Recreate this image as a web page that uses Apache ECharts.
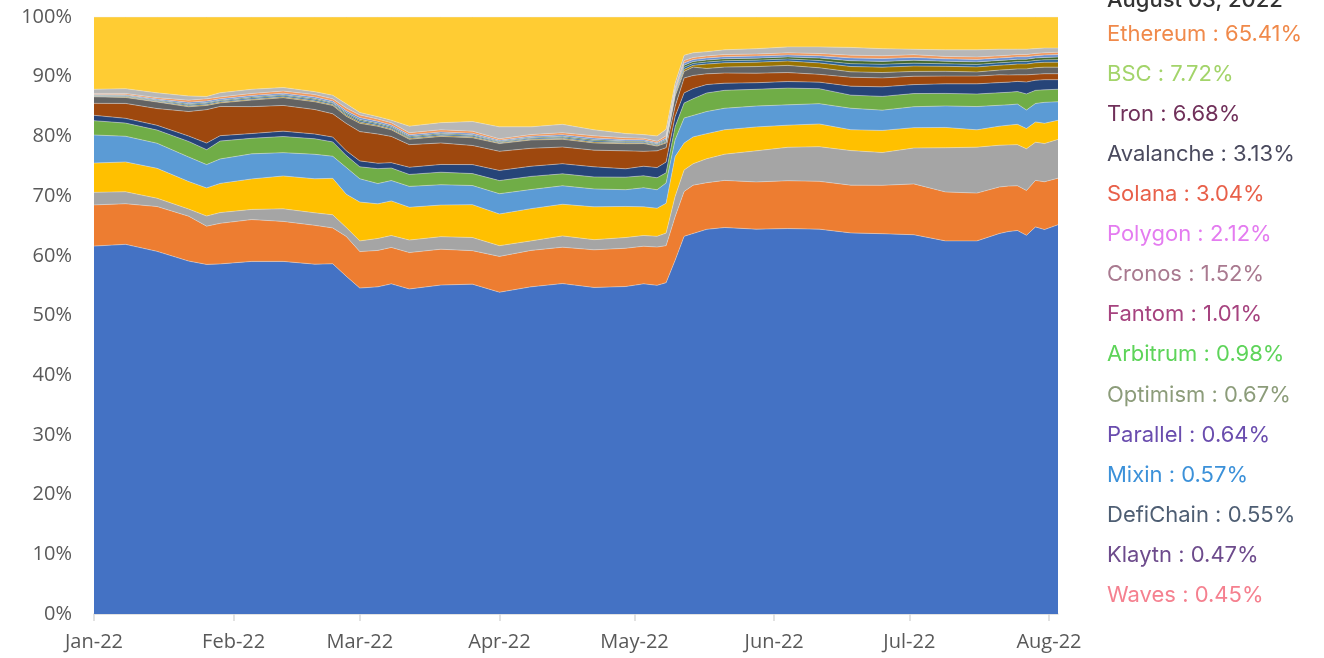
<!DOCTYPE html>
<html>
<head>
<meta charset="utf-8">
<script src="https://cdn.jsdelivr.net/npm/echarts@6/dist/echarts.min.js"></script>
<style>
html,body{margin:0;padding:0;background:#fff;}
#chart{width:1324px;height:658px;}
</style>
</head>
<body>
<div id="chart"></div>
<script>
// ---- data (share of TVL, %) ----
var dates = ['2022-01-01','2022-01-08','2022-01-15','2022-01-22','2022-01-26','2022-01-29','2022-02-05','2022-02-12','2022-02-19','2022-02-23',
'2022-02-26','2022-03-01','2022-03-05','2022-03-08','2022-03-12','2022-03-19','2022-03-26','2022-04-01','2022-04-08','2022-04-15',
'2022-04-22','2022-04-29','2022-05-03','2022-05-06','2022-05-08','2022-05-10','2022-05-12','2022-05-14','2022-05-17','2022-05-21',
'2022-05-28','2022-06-04','2022-06-11','2022-06-18','2022-06-25','2022-07-02','2022-07-09','2022-07-16','2022-07-21','2022-07-23',
'2022-07-25','2022-07-27','2022-07-29','2022-07-31','2022-08-03'];

var ethereum = [61.6,61.9,60.7,59.0,58.5,58.7,59.0,59.0,58.6,58.6, 56.8,54.6,54.8,55.3,54.5,55.1,55.2,53.9,54.8,55.4, 54.7,54.8,55.3,55.0,55.5,59.3,63.2,63.8,64.3,64.8, 64.4,64.5,64.4,63.9,63.7,63.4,62.5,62.5,63.8,64.0, 64.3,63.5,64.9,64.4,65.2];
var bsc      = [6.9,6.8,7.5,7.5,6.4,6.8,7.0,6.7,6.5,6.0, 6.7,6.1,6.1,6.1,6.1,6.0,5.6,6.0,6.1,6.1, 6.3,6.4,6.3,6.4,6.2,7.3,7.5,8.1,7.8,7.9, 7.9,8.0,8.0,8.0,8.1,8.5,8.2,8.0,7.8,7.6, 7.5,7.5,7.8,8.0,7.8];
var tron     = [2.1,2.0,1.4,1.2,1.7,1.8,1.7,2.1,2.1,2.2, 1.5,1.8,2.0,2.0,2.1,2.1,2.2,1.8,1.6,1.9, 1.7,1.8,1.8,1.8,2.1,3.4,3.6,3.6,4.0,4.4, 5.2,5.6,5.8,5.8,5.5,6.0,7.4,7.7,7.0,6.9, 6.9,7.0,6.4,6.4,6.5];
var avalanche= [4.9,5.0,5.0,4.6,4.7,4.9,5.1,5.5,5.7,6.1, 5.6,6.5,5.8,5.8,5.5,5.3,5.5,5.3,5.4,5.3, 5.5,5.2,4.8,4.7,5.0,6.7,4.5,4.5,4.2,4.1, 4.0,3.7,3.8,3.5,3.7,3.4,3.4,2.9,3.2,3.3, 3.4,3.4,3.4,3.4,3.2];
var solana   = [4.7,4.3,4.2,4.1,3.9,4.1,4.2,3.9,4.1,3.7, 4.5,3.9,3.4,3.4,3.5,3.4,3.2,3.4,3.2,3.1, 3.0,2.8,3.2,3.1,3.4,2.8,4.2,3.6,3.7,3.6, 3.5,3.4,3.4,3.6,3.4,3.5,3.6,3.9,3.5,3.4, 3.4,3.1,3.1,3.5,3.1];
var polygon  = [2.4,2.2,2.2,2.6,2.5,3.0,2.6,2.7,2.6,2.4, 2.0,2.0,2.5,2.1,2.0,2.1,2.0,2.2,2.2,2.0, 2.0,2.1,2.0,2.0,1.7,2.2,2.5,2.8,3.1,3.0, 2.8,2.8,2.5,2.2,2.3,2.2,2.1,2.1,2.1,2.1, 2.1,2.7,2.2,2.1,2.1];
var cronos   = [0.9,0.8,0.8,0.9,1.1,0.9,0.8,0.9,0.8,0.8, 0.8,1.0,0.9,0.9,1.2,1.3,1.5,1.7,1.7,1.7, 1.7,1.4,1.6,1.7,1.8,1.7,1.7,1.7,1.4,1.2, 1.1,1.1,1.1,1.5,1.6,1.5,1.6,1.7,1.7,1.7, 1.7,2.0,1.7,1.7,1.6];
var fantom   = [2.0,2.5,2.8,4.1,5.6,4.9,4.5,4.3,4.1,3.9, 4.6,4.9,4.9,4.4,3.8,3.6,3.2,3.2,3.0,2.8, 2.8,3.0,2.5,2.8,2.4,1.7,2.5,2.2,1.8,1.7, 1.6,1.5,1.3,1.5,1.5,1.4,1.3,1.3,1.3,1.2, 1.1,1.2,1.0,1.0,1.0];
var arbitrum = [1.1,1.0,1.1,0.8,0.7,0.6,1.1,1.3,1.3,1.4, 1.2,1.4,1.3,1.1,0.9,1.1,1.3,1.3,1.4,1.3, 1.2,1.2,1.3,0.8,0.8,1.7,1.1,1.4,0.9,1.0, 1.1,1.2,1.1,0.9,0.9,0.8,0.8,0.7,0.8,0.9, 1.0,1.0,1.1,1.1,1.1];
var optimism = [.08,.10,.10,.15,.15,.14,.15,.15,.17,.15, .20,.20,.17,.17,.15,.16,.16,.12,.13,.15, .17,.14,.13,.12,.17,.25,.34,.30,.73,.73, .74,.74,.82,.90,.90,.90,.84,.84,.82,.82, .82,.82,.82,.82,.84];
var parallel = [.10,.12,.13,.20,.20,.18,.20,.20,.22,.20, .25,.25,.22,.21,.20,.20,.20,.15,.16,.20, .22,.18,.16,.15,.22,.28,.36,.32,.34,.34, .34,.34,.40,.48,.48,.48,.42,.42,.40,.40, .40,.40,.40,.40,.42];
var mixin    = [.08,.10,.10,.15,.15,.14,.15,.16,.17,.15, .20,.20,.17,.18,.15,.15,.15,.11,.12,.15, .17,.14,.13,.11,.17,.25,.34,.30,.33,.33, .33,.34,.40,.48,.48,.48,.42,.42,.40,.40, .40,.40,.40,.40,.42];
var defichain= [.12,.15,.16,.25,.25,.22,.25,.24,.26,.25, .30,.30,.26,.26,.25,.24,.24,.18,.20,.25, .26,.22,.20,.18,.26,.30,.38,.34,.35,.35, .35,.34,.40,.48,.48,.48,.42,.42,.40,.40, .40,.40,.40,.40,.42];
var klaytn   = [.18,.20,.24,.35,.35,.32,.35,.35,.38,.35, .45,.45,.38,.38,.35,.35,.35,.24,.29,.35, .38,.32,.28,.24,.38,.32,.38,.34,.35,.35, .34,.34,.38,.46,.46,.46,.40,.40,.38,.38, .38,.38,.38,.38,.40];
var waves    = [0.7,0.8,0.8,0.7,0.4,0.7,0.7,0.6,0.5,0.6, 0.7,0.4,0.4,0.4,1.1,1.2,1.6,2.0,1.3,1.4, 1.0,0.7,0.6,0.9,1.1,0.8,0.9,0.8,0.7,0.8, 0.9,1.0,1.1,1.3,1.2,0.9,1.1,1.2,1.1,1.0, 0.9,0.9,0.8,0.8,0.7];
var others   = [12.1,12.0,12.7,13.2,13.3,12.7,12.1,11.8,12.5,13.1, 14.6,16.0,16.7,17.3,18.3,17.7,17.5,18.4,18.4,18.0, 18.9,19.5,19.7,19.9,18.8,11.1,6.4,6.0,5.8,5.5, 5.3,5.0,5.0,5.1,5.3,5.4,5.5,5.5,5.4,5.4, 5.4,5.4,5.3,5.2,5.2];

var seriesNames = ['Ethereum','BSC','Tron','Avalanche','Solana','Polygon','Cronos','Fantom','Arbitrum','Optimism','Parallel','Mixin','DefiChain','Klaytn','Waves','Others'];
var seriesValues = [ethereum,bsc,tron,avalanche,solana,polygon,cronos,fantom,arbitrum,optimism,parallel,mixin,defichain,klaytn,waves,others];
var areaColors = ['#4472C4','#ED7D31','#A5A5A5','#FFC000','#5B9BD5','#70AD47','#264478','#9E480E','#636363','#997300','#255E91','#43682B','#698ED0','#F1975A','#B7B7B7','#FFCC33'];

var monthLabels = ['Jan-22','Feb-22','Mar-22','Apr-22','May-22','Jun-22','Jul-22','Aug-22'];
var yTickLabels = ['0%','10%','20%','30%','40%','50%','60%','70%','80%','90%','100%'];

// tooltip-like text list at the right
var tipDate = 'August 03, 2022';
var tipNames  = ['Ethereum','BSC','Tron','Avalanche','Solana','Polygon','Cronos','Fantom','Arbitrum','Optimism','Parallel','Mixin','DefiChain','Klaytn','Waves'];
var tipValues = ['65.41%','7.72%','6.68%','3.13%','3.04%','2.12%','1.52%','1.01%','0.98%','0.67%','0.64%','0.57%','0.55%','0.47%','0.45%'];
var tipColors = ['#F0894A','#A3D46A','#70305A','#4A4A5E','#E8604A','#E47CF0','#A97A90','#A6437F','#5ED45A','#8C9C7A','#6A4DAE','#3C91D9','#4E5E73','#6D4B8C','#F5808F'];

// ---- build ----
var totals = dates.map(function(d,i){
  var s=0; seriesValues.forEach(function(a){ s+=a[i]; }); return s;
});
var series = seriesNames.map(function(name,k){
  return {
    name: name, type:'line', stack:'total', symbol:'none', showSymbol:false,
    smooth:false,
    lineStyle:{width:0.8,color:'rgba(230,230,230,0.55)'},
    areaStyle:{color:areaColors[k],opacity:1},
    itemStyle:{color:areaColors[k]},
    emphasis:{disabled:true},
    data: dates.map(function(d,i){ return [d, seriesValues[k][i]/totals[i]*100]; })
  };
});

var graphics = [];
graphics.push({type:'text', x:1107, y:0, silent:true,
  style:{text:tipDate, fill:'#333333', fontSize:22, fontWeight:500, fontFamily:'Inter', verticalAlign:'middle'}});
tipNames.forEach(function(n,i){
  graphics.push({type:'text', x:1107, y:34 + i*40.1, silent:true,
    style:{text:n+' : '+tipValues[i], fill:tipColors[i], fontSize:22, fontFamily:'Inter', verticalAlign:'middle'}});
});

var chart = echarts.init(document.getElementById('chart'), null, {renderer:'canvas'});
chart.setOption({
  animation:false,
  backgroundColor:'#ffffff',
  grid:{left:94, right:266, top:17, bottom:44, containLabel:false},
  xAxis:{
    type:'time', min:'2022-01-01', max:'2022-08-03', splitNumber:7,
    axisLine:{show:true, lineStyle:{color:'#D9D9D9', width:1.5}},
    axisTick:{show:true, length:7, lineStyle:{color:'#D9D9D9', width:1.5}},
    minorTick:{show:false},
    splitLine:{show:false},
    axisLabel:{
      color:'#595959', fontSize:20, fontFamily:'Open Sans', margin:18,
      formatter:function(v){ var d=new Date(v); return d.getDate()===1 ? monthLabels[d.getMonth()] : ''; }
    }
  },
  yAxis:{
    type:'value', min:0, max:100, interval:10,
    axisLine:{show:false}, axisTick:{show:false}, splitLine:{show:false},
    axisLabel:{color:'#595959', fontSize:20, fontFamily:'Open Sans', margin:22,
      formatter:function(v){ return yTickLabels[Math.round(v/10)]; }}
  },
  series:series,
  graphic:graphics
});
</script>
</body>
</html>
